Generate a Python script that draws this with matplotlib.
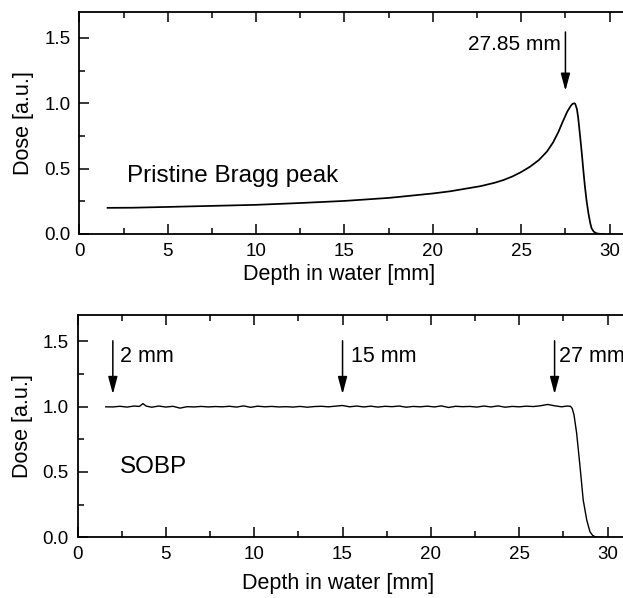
### Curvas de dosis: pico de Bragg y SOBP
import numpy as np
import matplotlib
matplotlib.use("Agg")
import matplotlib.pyplot as plt
from matplotlib.ticker import MultipleLocator

plt.rcParams['font.family'] = ['Liberation Sans', 'DejaVu Sans']

## Datos
bragg_depth = [1.6, 3.0, 5.0, 7.5, 10.0, 12.5, 15.0, 17.5, 18.1, 20.0, 21.0, 22.0, 22.7,
               23.5, 24.0, 24.5, 25.0, 25.5, 26.0, 26.45, 26.8, 27.1, 27.35, 27.6, 27.8,
               27.9, 28.0, 28.05, 28.15, 28.22, 28.32, 28.42, 28.5, 28.6, 28.7, 28.8, 28.9,
               28.98, 29.1, 29.26, 29.5, 29.7]
bragg_dose = [0.200, 0.201, 0.207, 0.215, 0.223, 0.237, 0.253, 0.276, 0.284, 0.310, 0.327,
              0.350, 0.366, 0.392, 0.413, 0.440, 0.474, 0.515, 0.566, 0.630, 0.700, 0.780,
              0.860, 0.935, 0.980, 0.995, 1.000, 0.996, 0.955, 0.890, 0.760, 0.625, 0.505,
              0.365, 0.250, 0.158, 0.085, 0.043, 0.018, 0.005, 0.0, 0.0]

sobp_depth = [1.6, 2.0, 2.4, 2.8, 3.2, 3.5, 3.7, 3.9, 4.2, 4.6, 5.0, 5.4, 5.8, 6.2, 6.6,
              7.0, 7.4, 7.8, 8.2, 8.6, 9.0, 9.4, 9.8, 10.2, 10.6, 11.0, 11.4, 11.8, 12.2,
              12.6, 13.0, 13.4, 13.8, 14.2, 14.6, 15.0, 15.4, 15.8, 16.2, 16.6, 17.0, 17.4,
              17.8, 18.2, 18.6, 19.0, 19.4, 19.8, 20.2, 20.6, 21.0, 21.4, 21.8, 22.2, 22.6,
              23.0, 23.4, 23.8, 24.2, 24.6, 25.0, 25.4, 25.8, 26.2, 26.6, 27.0, 27.4, 27.7,
              27.9, 28.0, 28.1, 28.25, 28.44, 28.62, 28.82, 29.0, 29.15, 29.3, 29.5, 29.7]
sobp_dose = [0.998, 0.997, 1.002, 0.996, 1.004, 1.001, 1.022, 1.003, 0.995, 1.004, 0.996,
             1.002, 0.988, 0.999, 0.997, 1.001, 0.997, 1.000, 0.998, 1.002, 0.996, 1.005,
             0.994, 1.003, 0.998, 1.001, 0.997, 0.999, 0.996, 1.001, 0.995, 1.000, 1.002,
             0.998, 1.003, 1.008, 0.998, 1.004, 0.997, 1.003, 0.996, 1.002, 0.999, 1.004,
             0.995, 1.001, 0.998, 1.003, 0.997, 1.005, 0.993, 1.002, 0.999, 1.001, 0.996,
             1.004, 0.997, 1.005, 0.995, 1.001, 0.998, 1.003, 1.000, 1.006, 1.016, 1.006,
             0.998, 1.004, 1.002, 0.985, 0.935, 0.795, 0.540, 0.285, 0.132, 0.043, 0.015,
             0.004, 0.0, 0.0]

peak_arrow = 27.5
peak_label = "27.85 mm"
sobp_arrows = [2, 15, 27]
sobp_labels = ["2 mm", "15 mm", "27 mm"]
sobp_label_x = [2.4, 15.45, 27.25]


## Formato comun de los ejes
def style_axes(ax, label_y):
    ax.set_xlim(0, 32)
    ax.set_ylim(0, 1.7)
    ax.xaxis.set_major_locator(MultipleLocator(5))
    ax.xaxis.set_minor_locator(MultipleLocator(2.5))
    ax.yaxis.set_major_locator(MultipleLocator(0.5))
    ax.yaxis.set_minor_locator(MultipleLocator(0.25))
    ax.yaxis.set_major_formatter(plt.FormatStrFormatter('%.1f'))
    ax.tick_params(which='both', direction='in', top=True, right=True, width=1.1,
                   labelsize=13.5, pad=6.5)
    ax.tick_params(which='major', length=7.5)
    ax.tick_params(which='minor', length=4.5)
    for s in ax.spines.values():
        s.set_linewidth(1.3)
    ax.set_xlabel("Depth in water [mm]", fontsize=15.5)
    ax.xaxis.set_label_coords(0.460, label_y)
    ax.set_ylabel("Dose [a.u.]", fontsize=15.5, labelpad=7)


def arrow(ax, x, top):
    ax.annotate("", xy=(x, 1.095), xytext=(x, top),
                arrowprops=dict(arrowstyle='-|>,head_length=1.05,head_width=0.28',
                                mutation_scale=10, lw=1.1, color='k',
                                shrinkA=0, shrinkB=0))


fig = plt.figure(figsize=(6.23, 5.98), dpi=100)
ax1 = fig.add_axes([0.1273, 0.6087, 0.908, 0.3717])
ax2 = fig.add_axes([0.1244, 0.1015, 0.9076, 0.3717])

## Pico de Bragg
ax1.plot(bragg_depth, bragg_dose, color='k', lw=1.25)
style_axes(ax1, -0.135)
arrow(ax1, peak_arrow, 1.545)
ax1.text(27.25, 1.405, peak_label, ha='right', va='baseline', fontsize=15)
ax1.text(2.7, 0.40, "Pristine Bragg peak", ha='left', va='baseline', fontsize=17.5)

## SOBP
ax2.plot(sobp_depth, sobp_dose, color='k', lw=1.0)
style_axes(ax2, -0.161)
for x, lab, lx in zip(sobp_arrows, sobp_labels, sobp_label_x):
    arrow(ax2, x, 1.503)
    ax2.text(lx, 1.343, lab, ha='left', va='baseline', fontsize=15.5)
ax2.text(2.4, 0.489, "SOBP", ha='left', va='baseline', fontsize=17.5)

fig.savefig("out.png", dpi=100)
